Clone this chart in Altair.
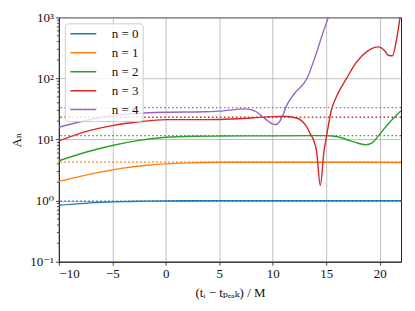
import altair as alt
import pandas as pd

labels = ["n = 0", "n = 1", "n = 2", "n = 3", "n = 4"]
colors = ["#1f77b4", "#ff7f0e", "#2ca02c", "#d62728", "#9467bd"]

x0 = [-10, -8, -6, -4, -2, 0, 2.5, 5, 10, 15, 22]
y0 = [0.84, 0.895, 0.935, 0.965, 0.98, 0.99, 0.995, 1.0, 1.0, 1.0, 1.0]

x1 = [-10, -8, -6, -4, -2, 0, 2, 5, 10, 15, 22]
y1 = [2.07, 2.5, 2.95, 3.4, 3.75, 4.0, 4.15, 4.25, 4.25, 4.25, 4.22]

x2 = [-10, -7.5, -5, -2.5, 0, 2.5, 5, 10, 15, 15.6, 16.5, 17.2, 18, 18.7, 19.3, 19.9, 20.8, 22]
y2 = [4.5, 6.2, 8.0, 9.7, 10.9, 11.3, 11.4, 11.5, 11.6, 11.4, 10.6, 9.6, 8.7, 8.2, 8.8, 11.6, 18.0, 29.6]

x3 = [-10, -7.5, -5, -2.5, 0, 3.6, 5, 8, 10, 11, 12.3, 12.8, 13.2, 13.5, 13.8, 14.1, 14.45,
      14.8, 15.0, 15.5, 16.0, 16.9, 17.8, 18.9, 19.85, 20.5, 20.8, 21.2, 21.6, 22]
y3 = [9.5, 13.5, 16.9, 19.5, 21.2, 21.2, 21.3, 22.5, 23.7, 24.0, 22.3, 19.5, 15.9, 12.5, 10.0, 6.5, 1.78,
      6.5, 10.5, 31, 52, 100, 182, 282, 329, 282, 240, 235, 450, 1300]

x4 = [-10, -7.5, -5, -2.5, 0, 3.6, 5, 7.4, 8.3, 9.3, 10.0, 10.3, 10.8, 11.3, 12.0, 13.2,
      14.0, 14.6, 15.2, 16.0]
y4 = [15.9, 20.5, 24.6, 27.0, 28.0, 28.5, 29.2, 31.7, 29.5, 21.8, 17.9, 17.6, 21.8, 35.9, 55.6, 100,
      235, 497, 1000, 2500]

asym = [0.975, 4.28, 11.6, 23.2, 33.3]

minor_ticks = [m * 10.0 ** e for e in (-1, 0, 1, 2) for m in range(2, 10)]
major_y = [0.1, 1, 10, 100, 1000]
major_x = [-10, -5, 0, 5, 10, 15, 20]

rows = []
for lab, xs, ys in zip(labels, [x0, x1, x2, x3, x4], [y0, y1, y2, y3, y4]):
    for i, (xv, yv) in enumerate(zip(xs, ys)):
        rows.append({"t": xv, "A": yv, "series": lab, "order": i})
df = pd.DataFrame(rows)
df_asym = pd.DataFrame({"A": asym, "series": labels})
df_minor = pd.DataFrame({"A": minor_ticks})

FONT = "Liberation Serif, DejaVu Serif, serif"

xscale = alt.Scale(domain=[-10, 22], nice=False, zero=False)
yscale = alt.Scale(type="log", domain=[0.1, 1000], nice=False)
cscale = alt.Scale(domain=labels, range=colors)
legend = alt.Legend(title=None, orient="none", legendX=6, legendY=6)

lines = alt.Chart(df).mark_line(strokeWidth=1.4, clip=True, interpolate="monotone").encode(
    x=alt.X("t:Q", scale=xscale,
            axis=alt.Axis(values=major_x, title="(tᵢ − tₚₑₐₖ) / M", grid=True,
                          labelExpr="replace(datum.label, '-', '−')")),
    y=alt.Y("A:Q", scale=yscale,
            axis=alt.Axis(values=major_y, title="Aₙ", grid=True,
                          labelExpr="'10' + ['⁻¹','⁰','¹','²','³'][round(log(datum.value)/LN10)+1]")),
    color=alt.Color("series:N", scale=cscale, legend=legend),
    order="order:Q",
)

dots = alt.Chart(df_asym).mark_rule(strokeWidth=1.4, strokeDash=[1.5, 2.5], clip=True).encode(
    y=alt.Y("A:Q", scale=yscale),
    color=alt.Color("series:N", scale=cscale, legend=legend),
)

minor = alt.Chart(df_minor).mark_rule(color="#222", strokeWidth=0.8).encode(
    x=alt.value(-2), x2=alt.value(0),
    y=alt.Y("A:Q", scale=yscale),
)

chart = alt.layer(lines, dots, minor).properties(
    width=343, height=245,
    autosize=alt.AutoSizeParams(type="none"),
    padding={"left": 51, "top": 9, "right": 6, "bottom": 40},
).configure_view(
    stroke="#222", strokeWidth=1
).configure_axis(
    labelFont=FONT, titleFont=FONT, labelFontSize=13, titleFontSize=13,
    labelColor="#111", titleColor="#111", titleFontWeight="normal",
    domainColor="#222", tickColor="#222", tickSize=3.5, tickWidth=0.8,
    gridColor="#b0b0b0", gridWidth=0.8, labelPadding=2,
).configure_axisX(
    titlePadding=6,
).configure_axisY(
    titlePadding=6,
).configure_legend(
    labelFont=FONT, labelFontSize=13, labelColor="#111",
    symbolType="M-2.6,0L2.6,0", symbolStrokeWidth=1.5, symbolSize=100,
    symbolDash=[1, 0], symbolOffset=8,
    fillColor="rgba(255,255,255,0.8)", strokeColor="#cccccc", cornerRadius=3,
    padding=4, rowPadding=5, labelOffset=22,
)

chart.save("out.html", embed_options={"renderer": "svg", "actions": False})
